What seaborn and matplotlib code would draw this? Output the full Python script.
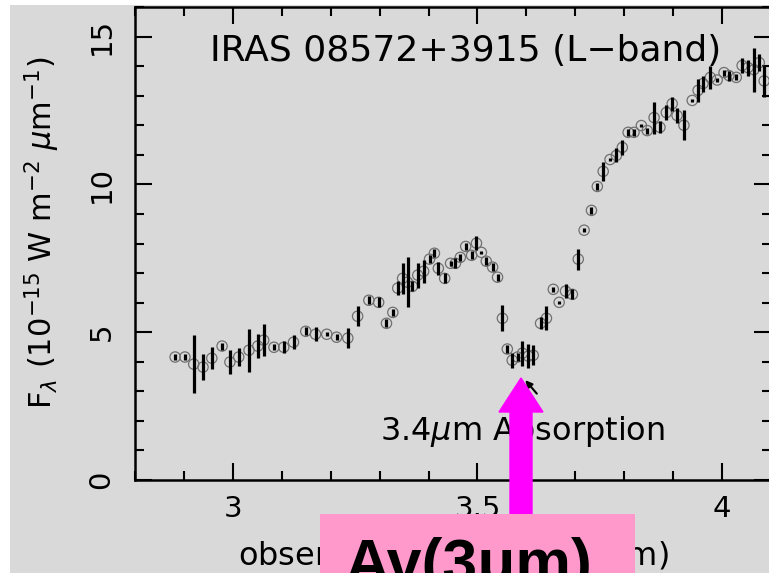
import numpy as np
import pandas as pd
import matplotlib
matplotlib.use("Agg")
import matplotlib.pyplot as plt
import seaborn as sns
from matplotlib.patches import Rectangle, FancyArrow
from matplotlib.ticker import MultipleLocator, FixedLocator

# ---------------- data ----------------
wavelength = [2.882, 2.902, 2.920, 2.939, 2.957, 2.978, 2.994, 3.012, 3.033, 3.051,
              3.063, 3.084, 3.104, 3.124, 3.149, 3.169, 3.192, 3.212, 3.235, 3.255,
              3.278, 3.298, 3.314, 3.327, 3.337, 3.347, 3.357, 3.367, 3.378, 3.390,
              3.402, 3.412, 3.420, 3.433, 3.445, 3.455, 3.465, 3.476, 3.488, 3.498,
              3.508, 3.518, 3.531, 3.541, 3.551, 3.561, 3.571, 3.582, 3.592, 3.604,
              3.614, 3.629, 3.641, 3.655, 3.667, 3.680, 3.694, 3.706, 3.718, 3.733,
              3.745, 3.757, 3.771, 3.784, 3.796, 3.808, 3.820, 3.835, 3.847, 3.861,
              3.873, 3.886, 3.898, 3.908, 3.922, 3.939, 3.951, 3.961, 3.976, 3.990,
              4.004, 4.014, 4.029, 4.041, 4.053, 4.065, 4.076, 4.086]
flux = [4.16, 4.16, 3.92, 3.82, 4.12, 4.53, 3.99, 4.16, 4.39, 4.53,
        4.73, 4.49, 4.49, 4.66, 5.03, 4.93, 4.93, 4.83, 4.80, 5.54,
        6.08, 6.01, 5.30, 5.67, 6.49, 6.82, 6.69, 6.55, 6.93, 7.06,
        7.47, 7.67, 7.16, 6.82, 7.33, 7.33, 7.53, 7.90, 7.60, 8.01,
        7.70, 7.40, 7.20, 6.86, 5.47, 4.43, 4.05, 4.16, 4.29, 4.19,
        4.22, 5.30, 5.47, 6.45, 6.01, 6.39, 6.28, 7.47, 8.45, 9.12,
        9.93, 10.44, 10.84, 10.98, 11.25, 11.76, 11.76, 11.99, 11.82, 12.26,
        11.93, 12.43, 12.73, 12.33, 12.00, 12.84, 13.18, 13.41, 13.62, 13.53,
        13.78, 13.68, 13.62, 14.02, 13.95, 13.88, 14.12, 13.50]
flux_err = [0.10, 0.10, 0.98, 0.44, 0.37, 0.12, 0.41, 0.30, 0.72, 0.42,
            0.55, 0.10, 0.20, 0.23, 0.13, 0.23, 0.06, 0.10, 0.35, 0.34,
            0.13, 0.17, 0.13, 0.13, 0.23, 0.52, 0.85, 0.17, 0.42, 0.38,
            0.14, 0.13, 0.21, 0.17, 0.08, 0.17, 0.12, 0.13, 0.13, 0.23,
            0.06, 0.13, 0.13, 0.12, 0.44, 0.13, 0.25, 0.13, 0.42, 0.41,
            0.34, 0.20, 0.41, 0.08, 0.06, 0.24, 0.17, 0.35, 0.06, 0.12,
            0.12, 0.33, 0.06, 0.24, 0.24, 0.13, 0.13, 0.06, 0.10, 0.54,
            0.20, 0.25, 0.24, 0.24, 0.50, 0.06, 0.40, 0.27, 0.40, 0.08,
            0.10, 0.17, 0.10, 0.24, 0.27, 0.75, 0.30, 0.55]

x_ticks = [3, 3.5, 4]
x_tick_labels = ["3", "3.5", "4"]
y_ticks = [0, 5, 10, 15]
y_tick_labels = ["0", "5", "10", "15"]

title_text = "IRAS 08572+3915 (L\u2212band)"
feature_text = r"3.4$\mu$m Absorption"
x_label = r"observed wavelength ($\mu$m)"
y_label = r"F$_{\lambda}$ (10$^{-15}$ W m$^{-2}$ $\mu$m$^{-1}$)"
box_text = "Av(3\u03bcm)"

# ---------------- style ----------------
sns.set_style("ticks")
plt.rcParams["font.family"] = ["DejaVu Sans"]
plt.rcParams["mathtext.fontset"] = "dejavusans"
plt.rcParams["text.color"] = "black"
plt.rcParams["axes.labelcolor"] = "black"
plt.rcParams["xtick.color"] = "black"
plt.rcParams["ytick.color"] = "black"
plt.rcParams["xtick.labelcolor"] = "black"
plt.rcParams["ytick.labelcolor"] = "black"

GRAY = "#d9d9d9"
W, H = 769, 573
fig = plt.figure(figsize=(W / 100, H / 100), dpi=100, facecolor="white")
fig.patches.append(Rectangle((10 / W, 0), 1, 1 - 5 / H, transform=fig.transFigure,
                             facecolor=GRAY, edgecolor="none", zorder=-10))

ax = fig.add_axes([135 / W, 93 / H, 636 / W, 473 / H])
ax.set_facecolor(GRAY)

df = pd.DataFrame({"wavelength": wavelength, "flux": flux, "err": flux_err})

ax.errorbar(df["wavelength"], df["flux"], yerr=df["err"], fmt="none",
            ecolor="black", elinewidth=2.3, capsize=0, zorder=3)
sns.scatterplot(data=df, x="wavelength", y="flux", ax=ax, marker="o", s=55,
                legend=False, zorder=2)
coll = ax.collections[-1]
coll.set_facecolor("none")
coll.set_edgecolor("#707070")
coll.set_linewidth(0.9)

ax.set_xlim(2.8, 4.1)
ax.set_ylim(0, 16)
ax.xaxis.set_major_locator(FixedLocator(x_ticks))
ax.set_xticklabels(x_tick_labels)
ax.xaxis.set_minor_locator(MultipleLocator(0.1))
ax.yaxis.set_major_locator(FixedLocator(y_ticks))
ax.set_yticklabels(y_tick_labels)
ax.yaxis.set_minor_locator(MultipleLocator(1))

for s in ax.spines.values():
    s.set_linewidth(1.8)
    s.set_color("black")
ax.tick_params(which="both", direction="in", top=True, right=True,
               width=1.5, color="black", labelcolor="black")
ax.tick_params(which="major", length=12.5)
ax.tick_params(which="minor", length=6.5)
ax.tick_params(axis="x", which="major", labelsize=21, pad=11)
ax.tick_params(axis="y", which="major", labelsize=21, pad=14)
for lab in ax.get_yticklabels():
    lab.set_rotation(90)
    lab.set_va("center")
ax.set_xlabel("")
ax.set_ylabel("")

ax.text(2.953, 14.19, title_text, fontsize=26, ha="left", va="baseline",
        color="black")
ax.text(3.30, 1.35, feature_text, fontsize=23, ha="left", va="baseline",
        color="black", zorder=4)

fig.text(453 / W, 8 / H, x_label, fontsize=23, ha="center", va="baseline",
         color="black")
fig.text(42 / W, (573 - 233) / H, y_label, fontsize=22, rotation=90,
         ha="center", va="center", color="black")

# small black arrow of the original figure
ax.annotate("", xy=(3.594, 3.45), xytext=(3.625, 2.85),
            arrowprops=dict(arrowstyle="-|>", color="black", lw=1.5,
                            mutation_scale=10), zorder=4)

# magenta overlay arrow and pink box (pixel -> inches)
fig.patches.append(FancyArrow(5.21, (573 - 530) / 100, 0, (530 - 378) / 100,
                              width=0.22, head_width=0.44, head_length=0.34,
                              length_includes_head=True, color="#ff00ff",
                              transform=fig.dpi_scale_trans, zorder=20))
fig.patches.append(Rectangle((3.20, 0), 3.15, (573 - 514) / 100,
                             transform=fig.dpi_scale_trans, facecolor="#ff99cc",
                             edgecolor="none", zorder=21))
fig.text(3.44 / (W / 100), -0.10 / (H / 100), box_text, fontsize=45,
         fontweight="bold", family=["Liberation Sans", "DejaVu Sans"],
         color="black", ha="left", va="baseline", zorder=22)

fig.savefig("out.png", dpi=100, facecolor="white")
